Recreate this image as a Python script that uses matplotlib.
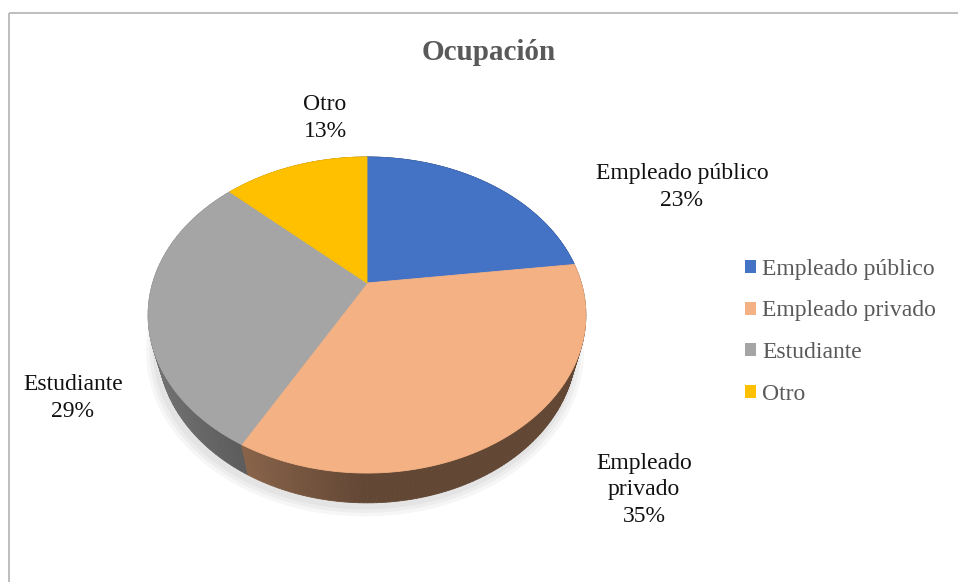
import numpy as np
import matplotlib
matplotlib.use("Agg")
from matplotlib import pyplot as plt
from matplotlib.patches import Polygon, Patch

# data
categories = ["Empleado público", "Empleado privado", "Estudiante", "Otro"]
shares = [23, 35, 29, 13]
colors = ["#4472C4", "#F4B183", "#A5A5A5", "#FFC000"]

# label placement (pixels, figure is 958x582)
label_pos = [(682, 187), (644, 490), (73, 398), (325, 118)]
label_text = ["Empleado público\n23%", "Empleado\nprivado\n35%", "Estudiante\n29%", "Otro\n13%"]

plt.rcParams['font.family'] = ['Liberation Serif', 'DejaVu Serif']

# 3D view of the pie
TILT = np.radians(45)
DIST = 3.49
HEIGHT = 0.222
SCALE = 748
CX, CY = 367, 283


def project(x, y, z):
    s, c = np.sin(TILT), np.cos(TILT)
    depth = DIST + y * s - z * c
    sx = CX + SCALE * x / depth
    sy = CY - SCALE * (y * c + z * s) / depth
    return sx, sy, depth


def shade(hex_color, x):
    # darker rim, light coming from the left
    f = max(0.40, 0.40 - 0.33 * x)
    rgb = np.array(matplotlib.colors.to_rgb(hex_color))
    return tuple(rgb * f)


fig = plt.figure(figsize=(9.58, 5.82), dpi=100)
ax = fig.add_axes([0, 0, 1, 1])
ax.set_xlim(0, 958)
ax.set_ylim(582, 0)
ax.axis('off')

# frame (only top and left edges are visible in the crop)
ax.plot([9, 958], [13, 13], color="#b9b9b9", lw=1.3, solid_capstyle='butt')
ax.plot([9, 9], [13, 582], color="#b9b9b9", lw=1.3, solid_capstyle='butt')

fractions = np.array(shares) / sum(shares)
bounds = np.concatenate([[0], np.cumsum(fractions)]) * 2 * np.pi

# soft shadow under the pie
t_all = np.linspace(0, 2 * np.pi, 240)
for grow in [1.045, 1.03, 1.015]:
    bx, by, _ = project(grow * np.sin(t_all), grow * np.cos(t_all), -HEIGHT)
    ax.add_patch(Polygon(np.column_stack([bx - 2, by + 3]), closed=True,
                         facecolor="black", alpha=0.035, lw=0))

# rim segments, painted back to front
segments = []
for i in range(len(shares)):
    n = max(4, int(np.degrees(bounds[i + 1] - bounds[i])))
    t = np.linspace(bounds[i], bounds[i + 1], n + 1)
    for a, b in zip(t[:-1], t[1:]):
        xs = np.array([np.sin(a), np.sin(b), np.sin(b), np.sin(a)])
        ys = np.array([np.cos(a), np.cos(b), np.cos(b), np.cos(a)])
        zs = np.array([0, 0, -HEIGHT, -HEIGHT])
        px, py, d = project(xs, ys, zs)
        mid = 0.5 * (a + b)
        segments.append((d.mean(), np.column_stack([px, py]), shade(colors[i], np.sin(mid))))

for _, pts, col in sorted(segments, key=lambda s: -s[0]):
    ax.add_patch(Polygon(pts, closed=True, facecolor=col, edgecolor=col, lw=0.6))

# top faces
for i in range(len(shares)):
    t = np.linspace(bounds[i], bounds[i + 1], 120)
    xs = np.concatenate([[0], np.sin(t)])
    ys = np.concatenate([[0], np.cos(t)])
    px, py, _ = project(xs, ys, np.zeros_like(xs))
    ax.add_patch(Polygon(np.column_stack([px, py]), closed=True,
                         facecolor=colors[i], edgecolor=colors[i], lw=0.6))

# data labels
for (lx, ly), txt in zip(label_pos, label_text):
    ax.text(lx, ly, txt, ha='center', va='center', fontsize=17,
            color="#111111", linespacing=1.36)

ax.text(489, 53, "Ocupación", ha='center', va='center', fontsize=21,
        fontweight='bold', color="#595959")

handles = [Patch(facecolor=c, edgecolor='none') for c in colors]
leg = ax.legend(handles, categories, loc='center left', bbox_to_anchor=(0.768, 0.43),
                frameon=False, fontsize=17, handlelength=0.47, handleheight=0.47,
                handletextpad=0.25, labelspacing=0.87, borderaxespad=0)
for txt in leg.get_texts():
    txt.set_color("#595959")

fig.savefig("out.png", dpi=100)
